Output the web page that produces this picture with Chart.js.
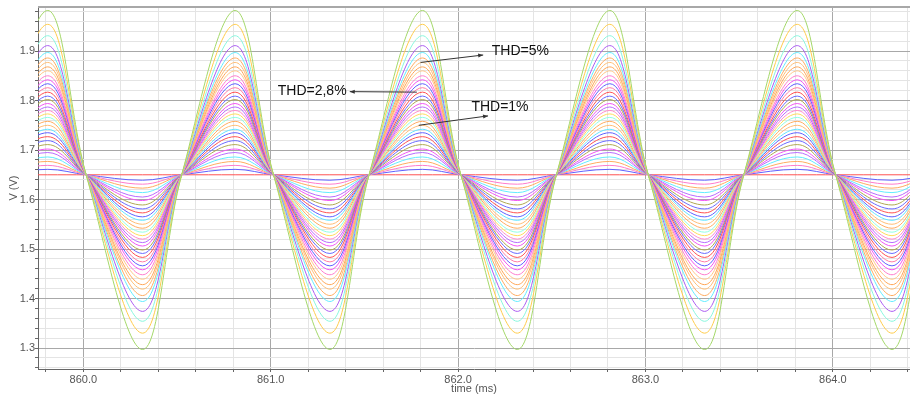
<!DOCTYPE html>
<html>
<head>
<meta charset="utf-8">
<title>Output voltage, THD sweep</title>
<script src="https://cdn.jsdelivr.net/npm/chart.js@4.4.1/dist/chart.umd.min.js"></script>
<style>
  html, body { margin: 0; padding: 0; background: #fff; }
  #wrap { width: 910px; height: 396px; }
</style>
</head>
<body>
<div id="wrap"><canvas id="chart"></canvas></div>
<script>
// each trace repeats the same 1 ms cycle: trough, rising crossing, crest, falling crossing
const cycleStarts = [859, 860, 861, 862, 863, 864]
const phaseTimes = [0.316, 0.525, 0.81, 1.015]
const restLevel = 1.65

// crest / trough voltage of every trace, largest swing first
const crestLevels = [
  1.982, 1.954, 1.931, 1.911, 1.897, 1.886, 1.877, 1.868, 1.860, 1.850,
  1.842, 1.834, 1.826, 1.817, 1.809, 1.802, 1.794, 1.787, 1.780, 1.773,
  1.766, 1.758, 1.750, 1.742, 1.735, 1.727, 1.719, 1.711, 1.702, 1.695,
  1.686, 1.677, 1.669, 1.661, 1.650,
]
const troughLevels = [
  1.297, 1.330, 1.354, 1.374, 1.394, 1.406, 1.419, 1.428, 1.439, 1.448,
  1.458, 1.466, 1.474, 1.483, 1.491, 1.498, 1.506, 1.513, 1.520, 1.527,
  1.534, 1.542, 1.550, 1.558, 1.565, 1.573, 1.581, 1.589, 1.598, 1.605,
  1.614, 1.623, 1.631, 1.639, 1.650,
]

const xLabelTicks = [860, 861, 862, 863, 864]
const yLabelTicks = [1.3, 1.4, 1.5, 1.6, 1.7, 1.8, 1.9]

const traceColors = [
  "#a4d86a", "#ffcc4c", "#88f7de", "#ab5cf2", "#62ecff",
  "#ffac60", "#ffbe76", "#ffa656", "#ffc688", "#ff7ccd",
  "#f356f3", "#6060ff", "#ff7ca8", "#ff5252", "#6a6aff",
  "#b0a852", "#f356f3", "#b86cff", "#ff8ccd", "#ffdc5c",
  "#90ffe4", "#ffac60", "#ffbe76", "#62e6ff", "#6060ff",
  "#ff5252", "#6a6aff", "#b0a852", "#f356f3", "#b86cff",
  "#62ecff", "#ffac60", "#ff7ccd", "#6060ff", "#ff5252",
]

// callouts: arrow from a trace crest out to its label
const notes = [
  { text: "THD=5%", trace: 6, at: 861.80, tip: [862.134, 1.892], label: [862.18, 1.899], align: "left" },
  { text: "THD=2,8%", trace: 13, at: 861.78, tip: [861.422, 1.818], label: [861.405, 1.819], align: "right" },
  { text: "THD=1%", trace: 22, at: 861.79, tip: [862.16, 1.769], label: [862.071, 1.7865], align: "left" },
]

const xGrid = []
for (let k = 0; k <= 23; k++) xGrid.push(Math.round((859.8 + 0.2 * k) * 10) / 10)
const yGrid = []
for (let k = 0; k <= 36; k++) yGrid.push(Math.round((1.26 + 0.02 * k) * 100) / 100)

const near = (list, v) => list.some(t => Math.abs(t - v) < 1e-6)

const datasets = crestLevels.map((crest, i) => {
  const points = []
  for (const start of cycleStarts) {
    points.push({ x: start + phaseTimes[0], y: troughLevels[i] })
    points.push({ x: start + phaseTimes[1], y: restLevel })
    points.push({ x: start + phaseTimes[2], y: crest })
    points.push({ x: start + phaseTimes[3], y: restLevel })
  }
  return {
    data: points,
    borderColor: traceColors[i],
    borderWidth: 1,
    pointRadius: 0,
    tension: 0.36,
    fill: false,
  }
})

const frameAndNotes = {
  id: "frameAndNotes",
  beforeDatasetsDraw(chart) {
    const { ctx, chartArea } = chart
    ctx.save()
    ctx.strokeStyle = "#a8a8a8"
    ctx.lineWidth = 2
    ctx.beginPath()
    ctx.moveTo(chartArea.left, chartArea.top)
    ctx.lineTo(chartArea.right, chartArea.top)
    ctx.stroke()
    ctx.restore()
  },
  afterDatasetsDraw(chart) {
    const { ctx } = chart
    const x = chart.scales.x
    const y = chart.scales.y
    ctx.save()
    for (const note of notes) {
      const x0 = x.getPixelForValue(note.at)
      const y0 = y.getPixelForValue(crestLevels[note.trace])
      const x1 = x.getPixelForValue(note.tip[0])
      const y1 = y.getPixelForValue(note.tip[1])
      ctx.strokeStyle = "#333"
      ctx.lineWidth = 1
      ctx.beginPath()
      ctx.moveTo(x0, y0)
      ctx.lineTo(x1, y1)
      ctx.stroke()

      // small arrow head at the label end
      const a = Math.atan2(y1 - y0, x1 - x0)
      ctx.fillStyle = "#333"
      ctx.beginPath()
      ctx.moveTo(x1, y1)
      ctx.lineTo(x1 - 5 * Math.cos(a) + 2 * Math.sin(a), y1 - 5 * Math.sin(a) - 2 * Math.cos(a))
      ctx.lineTo(x1 - 5 * Math.cos(a) - 2 * Math.sin(a), y1 - 5 * Math.sin(a) + 2 * Math.cos(a))
      ctx.closePath()
      ctx.fill()

      ctx.fillStyle = "#111"
      ctx.font = "14px 'Liberation Sans', Arial, sans-serif"
      ctx.textAlign = note.align
      ctx.textBaseline = "middle"
      ctx.fillText(note.text, x.getPixelForValue(note.label[0]), y.getPixelForValue(note.label[1]))
    }
    ctx.restore()
  },
}

const tickFont = { family: "'Liberation Sans', Arial, sans-serif", size: 11 }

new Chart(document.getElementById("chart"), {
  type: "line",
  data: { datasets },
  plugins: [frameAndNotes],
  options: {
    responsive: true,
    maintainAspectRatio: false,
    animation: false,
    layout: { padding: { top: 7, right: 0, bottom: 0, left: 0 } },
    elements: { line: { capBezierPoints: false } },
    plugins: {
      legend: { display: false },
      tooltip: { enabled: false },
    },
    scales: {
      x: {
        type: "linear",
        min: 859.758,
        max: 864.412,
        afterBuildTicks: scale => { scale.ticks = xGrid.map(v => ({ value: v })) },
        afterFit: scale => { scale.height = 27 },
        ticks: {
          autoSkip: false,
          maxRotation: 0,
          padding: 1,
          color: "#555",
          font: tickFont,
          callback: v => near(xLabelTicks, v) ? v.toFixed(1) : "",
        },
        grid: {
          color: c => near(xLabelTicks, c.tick.value) ? "#a8a8a8" : "#e4e4e4",
          tickColor: "#666",
          tickLength: 3,
        },
        border: { color: "#666" },
        title: { display: true, text: "time (ms)", color: "#555", font: tickFont, padding: 0 },
      },
      y: {
        min: 1.2576,
        max: 1.989,
        afterBuildTicks: scale => { scale.ticks = yGrid.map(v => ({ value: v })) },
        afterFit: scale => { scale.width = 38 },
        ticks: {
          autoSkip: false,
          padding: 0,
          color: "#555",
          font: tickFont,
          callback: v => near(yLabelTicks, v) ? v.toFixed(1) : "",
        },
        grid: {
          color: c => near(yLabelTicks, c.tick.value) ? "#a8a8a8" : "#e4e4e4",
          tickColor: "#666",
          tickLength: 3,
        },
        border: { color: "#666" },
        title: { display: true, text: "V (V)", color: "#555", font: tickFont, padding: { top: 7, bottom: 0 } },
      },
    },
  },
})
</script>
</body>
</html>
